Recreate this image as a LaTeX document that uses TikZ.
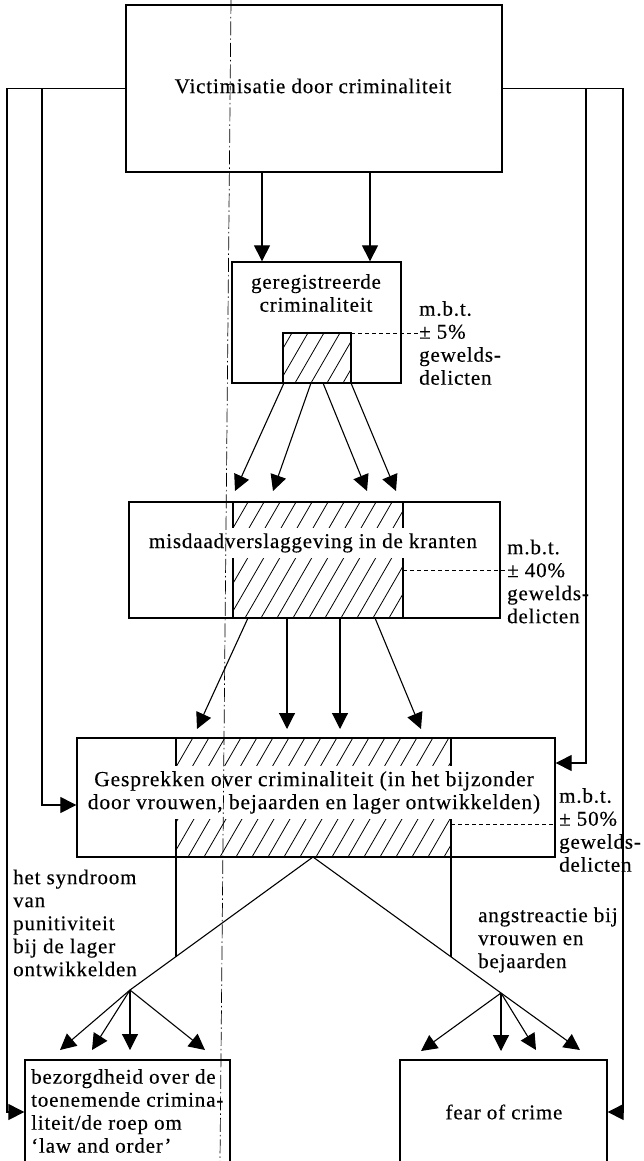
\documentclass[tikz,border=0pt]{standalone}
\usepackage{fontspec}
\setmainfont{Liberation Serif}[LetterSpace=4,FakeBold=0.3]
\usetikzlibrary{arrows.meta}
\newcommand{\hatchbox}[4]{%
  \begin{scope}
    \clip (#1,#2) rectangle (#3,#4);
    \foreach \k in {0,...,32} {\draw[hline] ({#1-100+\k*16},#4) -- ++(100,-173);}
  \end{scope}
  \draw[hborder] (#1,#2) rectangle (#3,#4);}
\begin{document}
\begin{tikzpicture}[x=1pt,y=-1pt,
  every node/.style={font=\fontsize{21}{23}\selectfont, inner sep=0pt},
  box/.style={draw, line width=1.3pt, rectangle, inner sep=0pt},
  conn/.style={line width=1.1pt},
  arr/.style={line width=1.1pt, -{Triangle[length=16pt,width=16pt]}},
  hline/.style={line width=0.8pt},
  hborder/.style={line width=1.1pt},
  lbl/.style={align=left, anchor=west},
  mbtdash/.style={line width=0.9pt, dash pattern=on 4pt off 3pt},
  axisline/.style={line width=0.7pt, dash pattern=on 14pt off 3pt on 1.5pt off 3pt},
  whitebg/.style={fill=white, inner xsep=2pt, inner ysep=5pt}
]
\useasboundingbox (0,0) rectangle (643,1161);

% ---- boxes ----
\node[box, minimum width=376pt, minimum height=167pt] (victim) at (314,88.5) {};
\node (victimtxt) at (313,86) {Victimisatie door criminaliteit};

\hatchbox{283}{333}{351}{383}
\node[box, minimum width=169pt, minimum height=121pt] (reg) at (316.5,322.5) {};
\node[align=center] (regtxt) at (316,293) {geregistreerde\\criminaliteit};
\node[lbl] (lab5) at (419,343) {m.b.t.\\± 5\%\\gewelds-\\delicten};

\hatchbox{233}{502}{403}{618}
\node[whitebg] (mistxt) at (313,543) {misdaadverslaggeving in de kranten};
\node[box, minimum width=371pt, minimum height=116pt] (mis) at (314.5,560) {};
\node[lbl] (lab40) at (507,581.5) {m.b.t.\\± 40\%\\gewelds-\\delicten};

\hatchbox{176}{738}{451}{857}
\node[whitebg, align=center, font=\fontsize{21.5}{23}\selectfont] (gesptxt) at (314,792.5) {Gesprekken over criminaliteit (in het bijzonder\\door vrouwen, bejaarden en lager ontwikkelden)};
\node[box, minimum width=478pt, minimum height=119pt] (gesp) at (316,797.5) {};
\node[lbl] (lab50) at (559,830) {m.b.t.\\± 50\%\\gewelds-\\delicten};

\node[box, minimum width=205pt, minimum height=115pt] (bez) at (127.5,1117.5) {};
\node[lbl] (beztxt) at (31,1111) {bezorgdheid over de\\toenemende crimina-\\liteit/de roep om\\‘law and order’};
\node[box, minimum width=207pt, minimum height=115pt] (fear) at (503.5,1117.5) {};
\node (feartxt) at (504,1112) {fear of crime};

\node[lbl] (synd) at (13,923) {het syndroom\\van\\punitiviteit\\bij de lager\\ontwikkelden};
\node[lbl] (angst) at (478,940) {angstreactie bij\\vrouwen en\\bejaarden};

% ---- dashed links to the labels ----
\draw[mbtdash] (351,333) -- (418,333);
\draw[mbtdash] (403,570) -- (505,570);
\draw[mbtdash] (451,824) -- (gesp.east |- 0,824);

% ---- side feedback lines ----
\coordinate (lo) at (7,1112);
\coordinate (litop) at (42,88.5);
\coordinate (li) at (42,805);
\coordinate (ro) at (623,1112);
\coordinate (ritop) at (586,88.5);
\coordinate (ri) at (586,763);
\draw[arr] (victim.west) -| (lo) -- (lo -| bez.west);
\draw[arr] (litop) -- (li) -- (li -| gesp.west);
\draw[arr] (victim.east) -| (ro) -- (ro -| fear.east);
\draw[arr] (ritop) -- (ri) -- (ri -| gesp.east);

% ---- victim -> reg ----
\draw[arr] (victim.south -| 262,0) -- (reg.north -| 262,0);
\draw[arr] (victim.south -| 370,0) -- (reg.north -| 370,0);

% ---- reg -> mis ----
\coordinate (r1) at (284,383); \coordinate (r2) at (311,383);
\coordinate (r3) at (323,383); \coordinate (r4) at (351,383);
\coordinate (m1) at (235,491); \coordinate (m2) at (273,491);
\coordinate (m3) at (367,491); \coordinate (m4) at (396,491);
\draw[arr] (r1) -- (m1);
\draw[arr] (r2) -- (m2);
\draw[arr] (r3) -- (m3);
\draw[arr] (r4) -- (m4);

% ---- mis -> gesp ----
\coordinate (s1) at (248,618); \coordinate (s2) at (287,618);
\coordinate (s3) at (340,618); \coordinate (s4) at (375,618);
\coordinate (g1) at (197,729); \coordinate (g2) at (287,729);
\coordinate (g3) at (340,729); \coordinate (g4) at (421,729);
\draw[arr] (s1) -- (g1);
\draw[arr] (s2) -- (g2);
\draw[arr] (s3) -- (g3);
\draw[arr] (s4) -- (g4);

% ---- gesp -> branches ----
\coordinate (apex) at (313,857);
\coordinate (bl) at (130,990);
\coordinate (br) at (501,993);
\draw[conn] (apex) -- (bl);
\draw[conn] (apex) -- (br);
\draw[hborder] (176,857) -- (176,956.6);
\draw[hborder] (451,857) -- (451,956.8);

\coordinate (b1) at (60,1050); \coordinate (b2) at (92,1050);
\coordinate (b3) at (130,1050); \coordinate (b4) at (205,1050);
\draw[arr] (bl) -- (b1);
\draw[arr] (bl) -- (b2);
\draw[arr] (bl) -- (b3);
\draw[arr] (bl) -- (b4);

\coordinate (f1) at (421,1051); \coordinate (f2) at (501,1051);
\coordinate (f3) at (536,1050); \coordinate (f4) at (580,1050);
\draw[arr] (br) -- (f1);
\draw[arr] (br) -- (f2);
\draw[arr] (br) -- (f3);
\draw[arr] (br) -- (f4);

% ---- dash-dot axis ----
\coordinate (axtop) at (231,0);
\coordinate (axbot) at (220,1161);
\draw[axisline] (axtop) -- (axbot);
\end{tikzpicture}
\end{document}
